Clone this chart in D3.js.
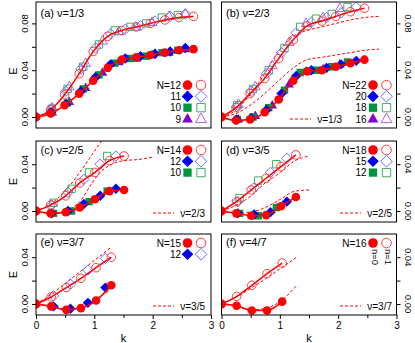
<!DOCTYPE html>
<html>
<head>
<meta charset="utf-8">
<script src="https://cdn.jsdelivr.net/npm/d3@7"></script>
<style>
body { margin: 0; background: #fff; }
svg { display: block; }
</style>
</head>
<body>
<div id="chart"></div>
<script>
// ---- data: k values and energies (n=0 filled, n=1 open) ----
// (a) nu=1/3
const a12k = [0, 0.25, 0.49, 0.74, 0.98, 1.23, 1.47, 1.72, 1.96, 2.21, 2.45, 2.70];
const a12n0 = [0, 0.003, 0.010, 0.020, 0.031, 0.042, 0.049, 0.051, 0.053, 0.055, 0.057, 0.058];
const a12n1 = [0, 0.006, 0.019, 0.037, 0.056, 0.069, 0.074, 0.077, 0.080, 0.083, 0.085, 0.086];
const a11k = [0.26, 0.51, 0.77, 1.02, 1.28, 1.53, 1.79, 2.04, 2.30, 2.56];
const a11n0 = [0.004, 0.011, 0.022, 0.034, 0.045, 0.050, 0.052, 0.054, 0.056, 0.059];
const a11n1 = [0.007, 0.022, 0.041, 0.059, 0.071, 0.075, 0.078, 0.082, 0.086, 0.088];
const a10k = [0.27, 0.54, 0.81, 1.08, 1.35, 1.62, 1.89, 2.16, 2.43];
const a10n0 = [0.004, 0.012, 0.024, 0.036, 0.046, 0.050, 0.052, 0.055, 0.057];
const a10n1 = [0.007, 0.024, 0.043, 0.062, 0.074, 0.077, 0.080, 0.085, 0.087];
const a9k = [0.28, 0.57, 0.85, 1.14, 1.42, 1.71, 1.99, 2.28, 2.56];
const a9n0 = [0.004, 0.013, 0.025, 0.038, 0.047, 0.050, 0.053, 0.055, 0.058];
const a9n1 = [0.008, 0.026, 0.046, 0.065, 0.073, 0.077, 0.081, 0.086, 0.088];

// (b) nu=2/3
const b22k = [0, 0.25, 0.49, 0.74, 0.98, 1.23, 1.47, 1.72, 1.96, 2.21, 2.45];
const b22n0 = [0, -0.003, -0.002, 0.004, 0.015, 0.031, 0.039, 0.040, 0.043, 0.046, 0.049];
const b22n1 = [0, 0.008, 0.020, 0.033, 0.050, 0.066, 0.078, 0.082, 0.086, 0.090, 0.093];
const b20k = [0.26, 0.51, 0.77, 1.03, 1.28, 1.54, 1.80, 2.05, 2.31];
const b20n0 = [-0.002, -0.001, 0.006, 0.020, 0.035, 0.040, 0.042, 0.045, 0.048];
const b20n1 = [0.009, 0.022, 0.037, 0.055, 0.072, 0.081, 0.085, 0.089, 0.094];
const b18k = [0.27, 0.54, 0.81, 1.08, 1.35, 1.62, 1.89, 2.16];
const b18n0 = [-0.002, 0.000, 0.008, 0.023, 0.038, 0.040, 0.043, 0.047];
const b18n1 = [0.010, 0.024, 0.040, 0.059, 0.077, 0.084, 0.088, 0.094];
const b16k = [0.29, 0.58, 0.87, 1.16, 1.45, 1.74, 2.03];
const b16n0 = [-0.002, 0.001, 0.010, 0.028, 0.039, 0.041, 0.045];
const b16n1 = [0.011, 0.026, 0.044, 0.064, 0.080, 0.085, 0.093];

// (c) nu=2/5
const c14k = [0, 0.25, 0.51, 0.75, 1.01, 1.26, 1.51];
const c14n0 = [0, -0.002, -0.001, 0.003, 0.010, 0.017, 0.018];
const c14n1 = [0, 0.005, 0.013, 0.024, 0.033, 0.043, 0.047];
const c12k = [0.27, 0.55, 0.82, 1.10, 1.37];
const c12n0 = [-0.002, 0.000, 0.006, 0.013, 0.019];
const c12n1 = [0.005, 0.016, 0.027, 0.040, 0.047];
const c10k = [0.30, 0.61, 0.91, 1.22];
const c10n0 = [-0.002, 0.000, 0.008, 0.017];
const c10n1 = [0.007, 0.019, 0.033, 0.047];
// nu=2/3 reference curves as drawn in (c)
const cRefUk = [0, 0.25, 0.5, 0.75, 1.0, 1.25];
const cRefU = [0, 0.006, 0.017, 0.033, 0.051, 0.069];
const cRefLk = [0, 0.25, 0.5, 0.75, 0.95, 1.1, 1.26, 1.5, 1.75, 2.0];
const cRefL = [0, -0.002, 0.000, 0.008, 0.023, 0.033, 0.039, 0.043, 0.044, 0.046];

// (d) nu=3/5
const d18k = [0, 0.255, 0.51, 0.765, 1.02, 1.275];
const d18n0 = [0, -0.002, -0.004, -0.0035, 0.004, 0.012];
const d18n1 = [0, 0.008, 0.018, 0.028, 0.038, 0.048];
const d15k = [0.28, 0.56, 0.84, 1.12];
const d15n0 = [-0.002, -0.003, -0.001, 0.008];
const d15n1 = [0.008, 0.020, 0.033, 0.045];
const d12k = [0.31, 0.63, 0.94];
const d12n0 = [-0.002, -0.004, 0.003];
const d12n1 = [0.011, 0.026, 0.040];

// (e) nu=3/7
const e15k = [0, 0.26, 0.52, 0.77, 1.03, 1.29];
const e15n0 = [0, -0.002, -0.005, -0.0035, 0.003, 0.016];
const e15n1 = [0, 0.006, 0.014, 0.022, 0.031, 0.040];
const e12k = [0.30, 0.59, 0.89, 1.19];
const e12n0 = [-0.002, -0.004, 0.001, 0.014];
const e12n1 = [0.007, 0.017, 0.029, 0.039];

// (f) nu=4/7
const f16k = [0, 0.26, 0.52, 0.78, 1.04];
const f16n0 = [0, -0.0015, -0.0055, -0.0055, 0.002];
const f16n1 = [0, 0.0065, 0.016, 0.026, 0.035];

const kTicks = [0, 1, 2, 3];
const kMinor = [0.5, 1.5, 2.5];

// ---- layout ----
const font = "'Liberation Sans', Arial, Helvetica, sans-serif";
const cols = [[36, 211], [221.5, 396.5]];
const rows = [[2, 128], [141, 222], [234, 315]];
const eMin = -0.0094;
const pxPerE = 46.8 / 0.04;
const red = "#ff0000";

const markStyle = {
    circle: { fill: "#ff0000", open: "#ff3c3c" },
    diamond: { fill: "#0000f0", open: "#6c6cff" },
    square: { fill: "#00963c", open: "#3fb062" },
    triangle: { fill: "#8800c8", open: "#b060ea" }
};

function shapePath(shape, s) {
    if (shape === "circle") {
        const r = 4.3 * s;
        return `M${r},0A${r},${r} 0 1,1 ${-r},0A${r},${r} 0 1,1 ${r},0Z`;
    }
    if (shape === "diamond") {
        const r = 5.2 * s;
        return `M0,${-r}L${r},0L0,${r}L${-r},0Z`;
    }
    if (shape === "square") {
        const h = 3.7 * s;
        return `M${-h},${-h}H${h}V${h}H${-h}Z`;
    }
    const a = 5.3 * s, b = 4.8 * s, c = 3.2 * s;
    return `M0,${-a}L${b},${c}L${-b},${c}Z`;
}

const panels = [
    { id: "a", col: 0, row: 0, title: "(a) ν=1/3",
      series: [["triangle", a9k, a9n0, a9n1], ["square", a10k, a10n0, a10n1],
               ["diamond", a11k, a11n0, a11n1], ["circle", a12k, a12n0, a12n1]],
      refs: [],
      legend: [["N=12", "circle"], ["11", "diamond"], ["10", "square"], ["9", "triangle"]],
      refLabel: null },
    { id: "b", col: 1, row: 0, title: "(b) ν=2/3",
      series: [["triangle", b16k, b16n0, b16n1], ["square", b18k, b18n0, b18n1],
               ["diamond", b20k, b20n0, b20n1], ["circle", b22k, b22n0, b22n1]],
      refs: [[a12k, a12n0], [a12k, a12n1]],
      legend: [["N=22", "circle"], ["20", "diamond"], ["18", "square"], ["16", "triangle"]],
      refLabel: ["ν=1/3", 342] },
    { id: "c", col: 0, row: 1, title: "(c) ν=2/5",
      series: [["square", c10k, c10n0, c10n1], ["diamond", c12k, c12n0, c12n1],
               ["circle", c14k, c14n0, c14n1]],
      refs: [[cRefLk, cRefL], [cRefUk, cRefU]],
      legend: [["N=14", "circle"], ["12", "diamond"], ["10", "square"]],
      refLabel: ["ν=2/3", 205] },
    { id: "d", col: 1, row: 1, title: "(d) ν=3/5",
      series: [["square", d12k, d12n0, d12n1], ["diamond", d15k, d15n0, d15n1],
               ["circle", d18k, d18n0, d18n1]],
      refs: [[c14k, c14n0], [c14k, c14n1]],
      legend: [["N=18", "circle"], ["15", "diamond"], ["12", "square"]],
      refLabel: ["ν=2/5", 392] },
    { id: "e", col: 0, row: 2, title: "(e) ν=3/7",
      series: [["diamond", e12k, e12n0, e12n1], ["circle", e15k, e15n0, e15n1]],
      refs: [[d18k, d18n0], [d18k, d18n1]],
      legend: [["N=15", "circle"], ["12", "diamond"]],
      refLabel: ["ν=3/5", 205] },
    { id: "f", col: 1, row: 2, title: "(f) ν=4/7",
      series: [["circle", f16k, f16n0, f16n1]],
      refs: [[e15k, e15n0], [e15k, e15n1]],
      legend: [["N=16", "circle"]],
      refLabel: ["ν=3/7", 392] }
];

const svg = d3.select("#chart").append("svg")
    .attr("width", 415)
    .attr("height", 343)
    .attr("font-family", font);

function drawPanel(p) {
    const [x0, x1] = cols[p.col];
    const [y0, y1] = rows[p.row];
    const x = d3.scaleLinear().domain([0, 3]).range([x0, x1]);
    const y = d3.scaleLinear().domain([eMin, eMin + (y1 - y0) / pxPerE]).range([y1, y0]);
    const line = d3.line().x(d => x(d[0])).y(d => y(d[1])).curve(d3.curveMonotoneX);

    svg.append("clipPath").attr("id", "clip-" + p.id)
        .append("rect")
        .attr("x", x0).attr("y", y0)
        .attr("width", x1 - x0).attr("height", y1 - y0);

    const g = svg.append("g").attr("clip-path", `url(#clip-${p.id})`);

    // reference curves of the previous filling
    p.refs.forEach(([k, e]) => {
        g.append("path")
            .datum(d3.zip(k, e))
            .attr("d", line)
            .attr("fill", "none")
            .attr("stroke", red)
            .attr("stroke-width", 1)
            .attr("stroke-dasharray", "3,2");
    });

    const drawMarks = (shape, k, e, open) => {
        g.selectAll(null)
            .data(d3.zip(k, e))
            .join("path")
            .attr("transform", d => `translate(${x(d[0])},${y(d[1])})`)
            .attr("d", shapePath(shape, 1))
            .attr("fill", open ? "none" : markStyle[shape].fill)
            .attr("stroke", open ? markStyle[shape].open : "none")
            .attr("stroke-width", 1);
    };

    const main = p.series[p.series.length - 1];
    p.series.slice(0, -1).forEach(([shape, k, e0, e1]) => {
        drawMarks(shape, k, e1, true);
        drawMarks(shape, k, e0, false);
    });

    [main[2], main[3]].forEach(e => {
        g.append("path")
            .datum(d3.zip(main[1], e))
            .attr("d", line)
            .attr("fill", "none")
            .attr("stroke", red)
            .attr("stroke-width", 1.5);
    });
    drawMarks(main[0], main[1], main[3], true);
    drawMarks(main[0], main[1], main[2], false);

    // frame
    svg.append("rect")
        .attr("x", x0).attr("y", y0)
        .attr("width", x1 - x0).attr("height", y1 - y0)
        .attr("fill", "none")
        .attr("stroke", "#000")
        .attr("stroke-width", 1);

    // y axis: left column on the left, right column on the right
    const yLab = p.row === 0 ? [0, 0.04, 0.08] : [0, 0.04];
    const yMin = p.row === 0 ? [0.02, 0.06] : [0.02];
    const left = p.col === 0;
    const yAxis = (left ? d3.axisLeft(y) : d3.axisRight(y))
        .tickValues(yLab.concat(yMin))
        .tickSize(4)
        .tickFormat("");
    svg.append("g")
        .attr("transform", `translate(${left ? x0 : x1},0)`)
        .call(yAxis)
        .call(a => a.select(".domain").remove())
        .selectAll("line").attr("stroke", "#000");

    svg.append("g").selectAll("text")
        .data(yLab)
        .join("text")
        .attr("transform", d => left
            ? `translate(28,${y(d)}) rotate(-90)`
            : `translate(405,${y(d)}) rotate(90)`)
        .attr("text-anchor", "middle")
        .attr("font-size", 9.5)
        .text(d3.format(".2f"));

    if (left) {
        const eY = [71, 181.5, 274.5][p.row];
        svg.append("text")
            .attr("transform", `translate(16.5,${eY}) rotate(-90)`)
            .attr("text-anchor", "middle")
            .attr("font-size", 11)
            .text("E");
    }

    // x axis on the bottom row only
    if (p.row === 2) {
        const xg = svg.append("g").attr("transform", `translate(0,${y1})`);
        xg.call(d3.axisBottom(x).tickValues(kTicks).tickSize(4).tickPadding(3).tickFormat(d3.format("d")))
            .call(a => a.select(".domain").remove())
            .call(a => a.selectAll("text").attr("font-size", 10).attr("font-family", font))
            .selectAll("line").attr("stroke", "#000");
        svg.append("g").attr("transform", `translate(0,${y1})`)
            .call(d3.axisBottom(x).tickValues(kMinor).tickSize(3).tickFormat(""))
            .call(a => a.select(".domain").remove())
            .selectAll("line").attr("stroke", "#000");
        svg.append("text")
            .attr("x", (x0 + x1) / 2)
            .attr("y", 341.5)
            .attr("text-anchor", "middle")
            .attr("font-size", 11)
            .text("k");
    }

    // title
    svg.append("text")
        .attr("x", x0 + 4.5)
        .attr("y", [17, 154, 246][p.row])
        .attr("font-size", 11)
        .text(p.title);

    // legend: top-right stack (row 1 anchored at bottom)
    const step = 11.3;
    const n = p.legend.length;
    const firstY = p.row === 0 ? y1 - 9 - (n - 1) * step : y0 + 9;
    p.legend.forEach(([label, shape], i) => {
        const ly = firstY + i * step;
        svg.append("text")
            .attr("x", x1 - 30)
            .attr("y", ly + 3.6)
            .attr("text-anchor", "end")
            .attr("font-size", 10)
            .text(label);
        svg.append("path")
            .attr("transform", `translate(${x1 - 23.5},${ly})`)
            .attr("d", shapePath(shape, 1.12))
            .attr("fill", markStyle[shape].fill);
        svg.append("path")
            .attr("transform", `translate(${x1 - 10},${ly})`)
            .attr("d", shapePath(shape, 1.12))
            .attr("fill", "none")
            .attr("stroke", markStyle[shape].open)
            .attr("stroke-width", 1);
    });

    if (p.refLabel) {
        const [txt, xEnd] = p.refLabel;
        const ry = y1 - 9;
        svg.append("line")
            .attr("x1", xEnd - 52).attr("x2", xEnd - 31)
            .attr("y1", ry).attr("y2", ry)
            .attr("stroke", red)
            .attr("stroke-width", 1)
            .attr("stroke-dasharray", "3,2");
        svg.append("text")
            .attr("x", xEnd)
            .attr("y", ry + 3.6)
            .attr("text-anchor", "end")
            .attr("font-size", 10)
            .text(txt);
    }

    if (p.id === "f") {
        [["n=0", x1 - 25], ["n=1", x1 - 11.5]].forEach(([t, lx]) => {
            svg.append("text")
                .attr("transform", `translate(${lx},${y0 + 15}) rotate(90)`)
                .attr("font-size", 9.5)
                .text(t);
        });
    }
}

panels.forEach(drawPanel);
</script>
</body>
</html>
